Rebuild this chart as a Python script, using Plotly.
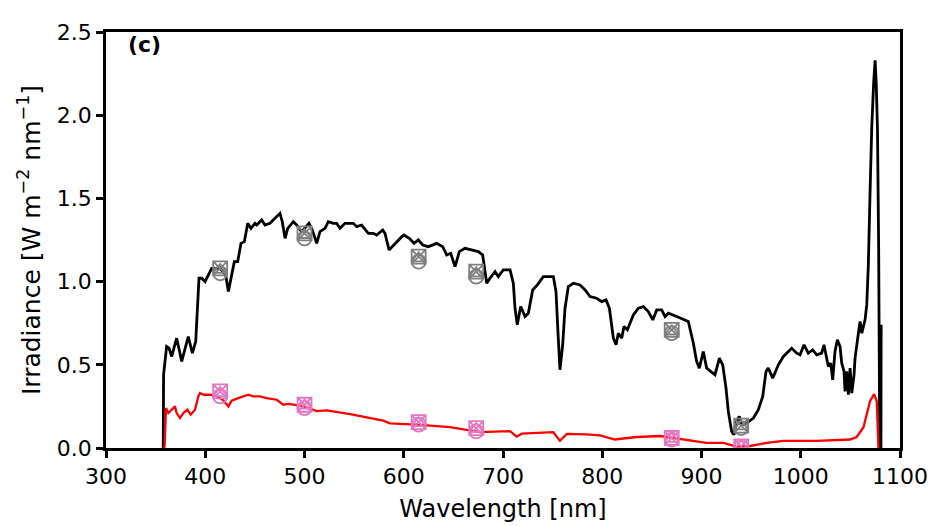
import plotly.graph_objects as go

# black curve: total irradiance
wl_total = [357.7, 358.0, 361.1, 363.5, 366.2, 371.2, 376.3, 382.9, 387.0, 390.4, 393.7, 396.4, 399.8,
            406.5, 414.9, 420.6, 423.3, 426.6, 429.3, 432.7, 436.0, 439.4, 442.8, 446.1, 450.1, 451.8,
            456.9, 460.2, 465.2, 470.3, 475.3, 477.6, 480.4, 483.1, 488.7, 492.1, 497.2, 504.5, 507.9,
            512.3, 515.6, 520.7, 524.0, 529.1, 532.4, 535.8, 540.8, 549.2, 552.6, 557.6, 564.3, 569.3,
            572.7, 578.8, 581.1, 585.2, 591.2, 598.0, 600.3, 605.6, 610.3, 614.7, 619.1, 624.8, 633.2,
            639.3, 643.3, 647.3, 651.7, 656.0, 661.7, 668.5, 675.2, 679.5, 681.9, 683.6, 686.9, 692.0,
            695.3, 700.3, 707.1, 710.4, 712.1, 714.4, 717.8, 722.2, 725.5, 729.9, 734.6, 740.6, 750.7,
            753.4, 755.7, 757.4, 760.1, 762.5, 765.8, 770.9, 777.6, 782.7, 787.7, 794.4, 799.5, 803.8,
            807.2, 811.2, 813.9, 816.2, 819.6, 821.9, 825.3, 831.3, 836.4, 841.4, 846.4, 850.9, 854.9,
            859.9, 863.3, 866.6, 875.0, 886.7, 891.8, 895.1, 897.8, 901.8, 905.2, 909.3, 913.6, 918.0,
            921.4, 924.7, 927.0, 930.4, 932.7, 935.4, 938.1, 940.5, 945.6, 952.3, 957.3, 961.7, 965.0,
            967.3, 971.8, 977.4, 982.5, 990.9, 995.9, 999.3, 1003.3, 1007.6, 1012.0, 1016.1, 1021.1,
            1023.4, 1025.4, 1027.8, 1030.2, 1032.2, 1034.5, 1036.9, 1039.6, 1041.3, 1043.6, 1044.6,
            1046.3, 1048.0, 1049.7, 1051.4, 1053.7, 1054.7, 1058.1, 1059.8, 1061.5, 1063.2, 1064.8,
            1066.5, 1068.1, 1069.8, 1071.5, 1073.5, 1074.9, 1076.0, 1077.3, 1078.5, 1079.6, 1080.8,
            1081.0]
irr_total = [0.0, 0.44, 0.61, 0.60, 0.55, 0.66, 0.52, 0.67, 0.57, 0.64, 1.02, 1.02, 1.00,
             1.08, 1.08, 1.04, 0.94, 1.04, 1.12, 1.12, 1.23, 1.24, 1.35, 1.32, 1.35, 1.34,
             1.37, 1.34, 1.35, 1.38, 1.41, 1.36, 1.26, 1.32, 1.36, 1.34, 1.30, 1.35, 1.31,
             1.23, 1.30, 1.32, 1.36, 1.35, 1.35, 1.32, 1.35, 1.35, 1.33, 1.34, 1.29, 1.29,
             1.28, 1.31, 1.29, 1.19, 1.23, 1.27, 1.28, 1.26, 1.23, 1.25, 1.22, 1.21, 1.23,
             1.21, 1.16, 1.17, 1.09, 1.18, 1.20, 1.19, 1.18, 1.16, 1.07, 0.99, 1.02, 1.06,
             1.03, 1.07, 1.07, 0.99, 0.84, 0.74, 0.85, 0.79, 0.81, 0.95, 0.98, 1.03, 1.03,
             0.94, 0.66, 0.47, 0.62, 0.84, 0.97, 0.99, 0.98, 0.95, 0.91, 0.90, 0.88, 0.89,
             0.84, 0.66, 0.62, 0.69, 0.66, 0.73, 0.71, 0.80, 0.84, 0.85, 0.82, 0.77, 0.83,
             0.83, 0.79, 0.81, 0.79, 0.76, 0.63, 0.52, 0.48, 0.58, 0.48, 0.46, 0.44, 0.54,
             0.50, 0.36, 0.22, 0.10, 0.08, 0.16, 0.19, 0.14, 0.15, 0.18, 0.23, 0.31, 0.46,
             0.48, 0.42, 0.50, 0.55, 0.60, 0.57, 0.56, 0.62, 0.57, 0.59, 0.56, 0.57,
             0.62, 0.55, 0.49, 0.51, 0.41, 0.58, 0.65, 0.61, 0.51, 0.46, 0.34,
             0.46, 0.32, 0.48, 0.33, 0.44, 0.54, 0.69, 0.76, 0.69, 0.74, 0.77,
             0.86, 1.10, 1.53, 1.92, 2.20, 2.33, 2.20, 1.92, 1.20, 0.0, 0.0,
             0.74]

# red curve: diffuse irradiance
wl_diffuse = [358.5, 359.0, 360.5, 362.8, 366.2, 369.5, 371.2, 374.6, 377.9, 382.0, 385.3, 389.7,
              393.0, 394.7, 398.7, 404.8, 412.0, 417.6, 423.3, 426.6, 433.3, 437.7, 443.4, 448.4,
              455.2, 461.9, 472.0, 478.7, 483.7, 492.1, 498.8, 512.3, 522.4, 545.9, 579.4, 586.2,
              613.1, 646.6, 676.8, 707.1, 713.8, 718.8, 730.6, 750.7, 757.4, 764.2, 784.3, 797.7,
              812.8, 834.6, 858.2, 888.4, 905.2, 922.0, 935.4, 948.9, 965.7, 982.5, 1016.1, 1049.7,
              1056.4, 1063.2, 1069.8, 1073.9, 1076.6, 1078.3]
irr_diffuse = [0.0, 0.01, 0.24, 0.21, 0.23, 0.25, 0.21, 0.18, 0.21, 0.23, 0.20, 0.23,
               0.31, 0.33, 0.32, 0.32, 0.31, 0.29, 0.25, 0.285, 0.30, 0.31, 0.32, 0.31,
               0.31, 0.30, 0.29, 0.26, 0.265, 0.258, 0.252, 0.222, 0.226, 0.203, 0.164, 0.148,
               0.141, 0.125, 0.095, 0.101, 0.068, 0.086, 0.090, 0.095, 0.043, 0.085, 0.082, 0.076,
               0.051, 0.066, 0.072, 0.047, 0.031, 0.031, 0.008, 0.012, 0.031, 0.043, 0.043, 0.051,
               0.066, 0.125, 0.281, 0.324, 0.281, 0.0]

# sun photometer points
wl_points = [415, 500, 615, 673, 870, 940]
total_circle = [1.05, 1.26, 1.12, 1.03, 0.69, 0.12]
total_triangle = [1.07, 1.28, 1.14, 1.05, 0.70, 0.13]
total_square = [1.08, 1.29, 1.15, 1.06, 0.71, 0.135]
diffuse_circle = [0.31, 0.24, 0.14, 0.10, 0.05, 0.005]
diffuse_triangle = [0.33, 0.255, 0.15, 0.115, 0.055, 0.01]
diffuse_square = [0.34, 0.26, 0.155, 0.12, 0.06, 0.01]

fig = go.Figure()

fig.add_trace(go.Scatter(x=wl_total, y=irr_total, mode='lines',
                         line=dict(color='black', width=2.8)))
fig.add_trace(go.Scatter(x=wl_diffuse, y=irr_diffuse, mode='lines',
                         line=dict(color='red', width=2.3)))

#markers: three symbols on top of each other
for vals, sym, col in [(total_circle, 'circle-open', '#7f7f7f'),
                       (total_triangle, 'triangle-up-open', '#7f7f7f'),
                       (total_square, 'square-x-open', '#7f7f7f'),
                       (diffuse_circle, 'circle-open', '#e377c2'),
                       (diffuse_triangle, 'triangle-up-open', '#e377c2'),
                       (diffuse_square, 'square-x-open', '#e377c2')]:
    fig.add_trace(go.Scatter(x=wl_points, y=vals, mode='markers',
                             marker=dict(symbol=sym, size=14 if sym != 'triangle-up-open' else 12,
                                         color=col, line=dict(color=col, width=1.8))))

tick_font = dict(family='DejaVu Sans', size=22, color='black')
title_font = dict(family='DejaVu Sans', size=24, color='black')
axis_style = dict(showline=True, linecolor='black', linewidth=2.5, mirror=True,
                  ticks='outside', ticklen=7, tickwidth=2.5, tickcolor='black',
                  showgrid=False, zeroline=False, tickfont=tick_font)

fig.update_xaxes(range=[300, 1100], dtick=100,
                 title=dict(text='Wavelength [nm]', font=title_font, standoff=13),
                 **axis_style)
fig.update_yaxes(range=[0, 2.5], dtick=0.5, tickformat='.1f',
                 title=dict(text='Irradiance [W m<sup>\u22122</sup> nm<sup>\u22121</sup>]',
                            font=dict(family='DejaVu Sans', size=25, color='black'), standoff=10),
                 **axis_style)

fig.add_annotation(text='<b>(c)</b>', x=0.025, y=1.004, xref='paper', yref='paper',
                   xanchor='left', yanchor='top', showarrow=False,
                   font=dict(family='DejaVu Sans', size=22, color='black'))

# page has an 8px body margin, so margins are shifted to line up with the reference
fig.update_layout(width=937, height=526, showlegend=False,
                  paper_bgcolor='white', plot_bgcolor='white',
                  margin=dict(l=98, r=45, t=13, b=86))

fig.write_html("out.html")
